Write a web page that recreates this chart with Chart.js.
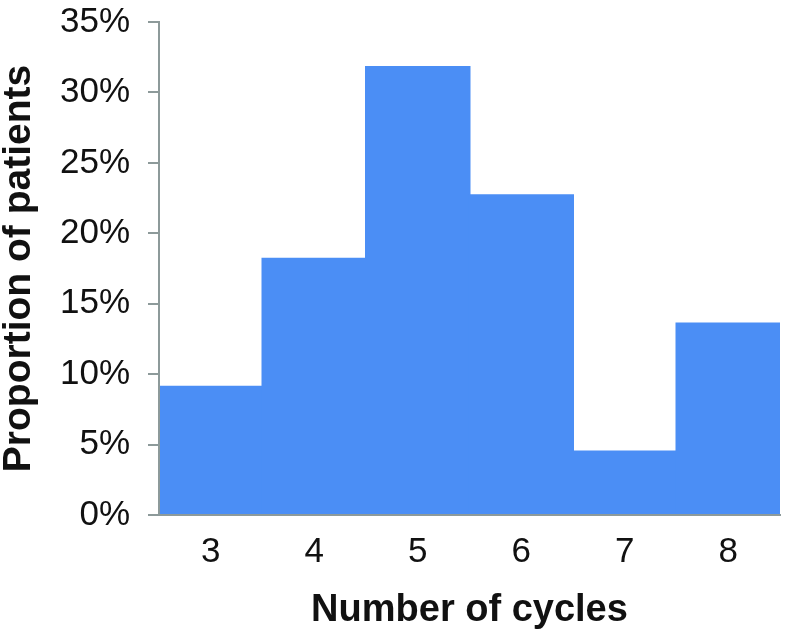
<!DOCTYPE html>
<html>
<head>
<meta charset="utf-8">
<script src="https://cdn.jsdelivr.net/npm/chart.js@4"></script>
<style>
  html, body { margin: 0; padding: 0; background: #fff; }
  #wrap { width: 786px; height: 633px; }
</style>
</head>
<body>
<div id="wrap"><canvas id="chart" width="786" height="633"></canvas></div>
<script>
// ── Data ──
const cycles = ["3", "4", "5", "6", "7", "8"];
const proportion = [9.1, 18.2, 31.8, 22.7, 4.5, 13.6];
const yTicks = [0, 5, 10, 15, 20, 25, 30, 35];

const AXIS = "#8d9a9a";
const FONT = "'Liberation Sans', Arial, Helvetica, sans-serif";

new Chart(document.getElementById("chart"), {
  type: "bar",
  data: {
    labels: cycles,
    datasets: [{
      data: proportion,
      backgroundColor: "#4b8ef5",
      borderWidth: 0,
      inflateAmount: 1,
      categoryPercentage: 1,
      barPercentage: 1
    }]
  },
  options: {
    responsive: false,
    animation: false,
    layout: { padding: { top: 22, right: 6, left: 0, bottom: 0 } },
    plugins: { legend: { display: false }, tooltip: { enabled: false } },
    scales: {
      x: {
        grid: { display: false, drawTicks: false },
        border: { display: true, color: AXIS, width: 2, z: 1 },
        ticks: { color: "#111", font: { family: FONT, size: 35 }, padding: 16 },
        title: {
          display: true, text: "Number of cycles", color: "#111",
          font: { family: FONT, size: 38, weight: "bold" }, padding: { top: 0, bottom: 0 }
        },
        afterFit: s => { s.height = 118; s.paddingLeft = 0; s.paddingRight = 0; }
      },
      y: {
        min: 0, max: 35,
        afterBuildTicks: s => { s.ticks = yTicks.map(v => ({ value: v })); },
        grid: { drawOnChartArea: false, drawTicks: true, tickLength: 11, color: AXIS, lineWidth: 2 },
        border: { display: true, color: AXIS, width: 2, z: 1 },
        ticks: { color: "#111", font: { family: FONT, size: 35 }, padding: 18, callback: v => v + "%" },
        title: {
          display: true, text: "Proportion of patients", color: "#111",
          font: { family: FONT, size: 39, weight: "bold", lineHeight: 1.0 }, padding: { top: 0, bottom: 0 }
        },
        afterFit: s => { s.width = 159; s.paddingTop = 0; s.paddingBottom = 0; }
      }
    }
  }
});
</script>
</body>
</html>
